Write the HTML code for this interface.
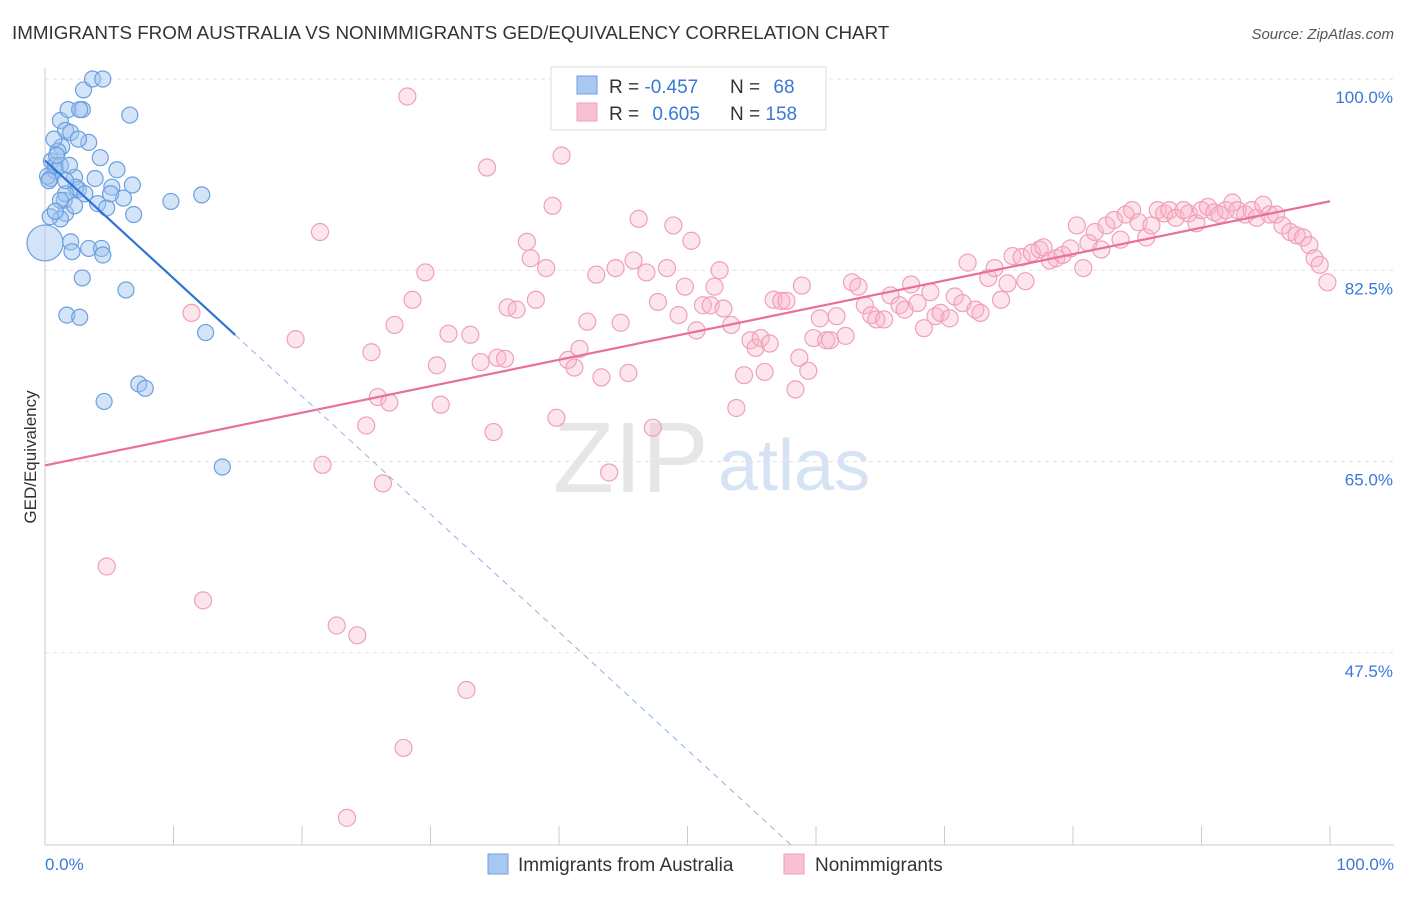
<!DOCTYPE html>
<html><head><meta charset="utf-8"><style>
body{margin:0;background:#fff;font-family:"Liberation Sans",sans-serif;}
svg text{font-family:"Liberation Sans",sans-serif;}
</style></head><body>
<svg id="chart" width="1406" height="892" xmlns="http://www.w3.org/2000/svg">
<text x="12" y="39" font-size="18.8" fill="#333">IMMIGRANTS FROM AUSTRALIA VS NONIMMIGRANTS GED/EQUIVALENCY CORRELATION CHART</text>
<text x="1394" y="39" font-size="15" fill="#555" text-anchor="end" font-style="italic">Source: ZipAtlas.com</text>
<text x="553" y="492" font-size="100" fill="#e6e6e6" font-family="Liberation Serif">ZIP</text>
<text x="718" y="490" font-size="72" fill="#d5e3f5">atlas</text>
<g id="grid"></g><g id="axes"></g><g id="pink"></g><g id="blue"></g><g id="lines"></g>
<text x="36" y="457" font-size="17" fill="#333" transform="rotate(-90 36 457)" text-anchor="middle">GED/Equivalency</text>
<g>
<rect x="551" y="67" width="275" height="63" fill="#fff" stroke="#ddd"/>
<rect x="577" y="76" width="20" height="18" fill="#a9c8f0" stroke="#6a9fe0"/>
<rect x="577" y="103" width="20" height="18" fill="#f8c0d0" stroke="#f0a0b8"/>
<text x="609" y="93" font-size="19" fill="#333">R = <tspan fill="#3a78d8">-0.457</tspan></text>
<text x="730" y="93" font-size="19" fill="#333">N = <tspan fill="#3a78d8" dx="8">68</tspan></text>
<text x="609" y="120" font-size="19" fill="#333">R = <tspan fill="#3a78d8" dx="8">0.605</tspan></text>
<text x="730" y="120" font-size="19" fill="#333">N = <tspan fill="#3a78d8">158</tspan></text>
</g>
<g>
<rect x="488" y="854" width="20" height="20" fill="#a9c8f0" stroke="#6a9fe0"/>
<text x="518" y="871" font-size="19" fill="#333">Immigrants from Australia</text>
<rect x="784" y="854" width="20" height="20" fill="#f8c0d0" stroke="#f0a0b8"/>
<text x="815" y="871" font-size="19" fill="#333">Nonimmigrants</text>
</g>
</svg>
<script>
const yTicks=[100,82.5,65,47.5];
const yTickLabels=["100.0%","82.5%","65.0%","47.5%"];
const xTickLabels=["0.0%","100.0%"];
const blueX=[0,0.4,0.5,0.8,0.2,1.2,1.3,1.6,1.8,2,2.9,3,3.7,4.5,6.6,1,0.8,1.5,2.3,2.6,2.4,1.6,2,2.1,1.2,3.4,4.3,5.6,5.2,6.8,4.1,6.1,4.8,6.9,9.8,12.2,3.4,4.4,4.5,2.9,6.3,1.7,2.7,12.5,7.3,7.8,4.6,13.8,1.2,0.7,0.3,0.9,2.7,1.6,2.3,3.1,1.9,3.9,5.1,1.2,0.4,0.8,1.6,2.6];
const blueY=[85,90.9,92.5,91.6,91.1,96.2,93.8,95.3,97.2,95.1,97.2,99,100,100,96.7,93.4,92.1,88.9,91,89.9,90.1,87.7,85.1,84.2,87.2,94.2,92.8,91.7,90.1,90.3,88.6,89.1,88.2,87.6,88.8,89.4,84.5,84.5,83.9,81.8,80.7,78.4,78.2,76.8,72.1,71.7,70.5,64.5,92.1,94.5,90.7,93,97.2,89.5,88.4,89.5,92.1,90.9,89.5,88.9,87.4,87.9,90.7,94.5];
const pinkX=[4.8,12.3,11.4,19.5,21.4,21.6,22.7,24.3,23.5,25,25.4,25.9,26.3,26.8,27.2,27.9,28.2,28.6,29.6,30.5,30.8,31.4,32.8,33.1,33.9,34.4,34.9,35.2,35.8,36,36.7,37.5,37.8,38.2,39,39.5,39.8,40.2,40.7,41.2,41.6,42.2,42.9,43.3,43.9,44.4,44.8,45.4,45.8,46.2,46.8,47.3,47.7,48.4,48.9,49.3,49.8,50.3,50.7,51.2,51.8,52.1,52.5,52.8,53.4,53.8,54.4,54.9,55.3,55.7,56,56.4,56.7,57.3,57.7,58.4,58.7,58.9,59.4,59.8,60.3,60.8,61.1,61.6,62.3,62.8,63.3,63.8,64.3,64.7,65.3,65.8,66.5,66.9,67.4,67.9,68.4,68.9,69.3,69.7,70.4,70.8,71.4,71.8,72.4,72.8,73.4,73.9,74.4,74.9,75.3,76,76.3,76.8,77.4,77.7,78.2,78.7,79.2,79.8,80.3,80.8,81.2,81.7,82.2,82.6,83.2,83.7,84.1,84.6,85.1,85.7,86.1,86.6,87.1,87.5,88,88.6,89,89.6,90,90.5,91,91.4,91.9,92.4,92.8,93.4,93.9,94.3,94.8,95.3,95.8,96.3,96.9,97.4,97.9,98.4,98.8,99.2,99.8];
const pinkY=[55.4,52.3,78.6,76.2,86,64.7,50,49.1,32.4,68.3,75,70.9,63,70.4,77.5,38.8,98.4,79.8,82.3,73.8,70.2,76.7,44.1,76.6,74.1,91.9,67.7,74.5,74.4,79.1,78.9,85.1,83.6,79.8,82.7,88.4,69,93,74.3,73.6,75.3,77.8,82.1,72.7,64,82.7,77.7,73.1,83.4,87.2,82.3,68.1,79.6,82.7,86.6,78.4,81,85.2,77,79.3,79.3,81,82.5,79,77.5,69.9,72.9,76.1,75.4,76.3,73.2,75.8,79.8,79.7,79.7,71.6,74.5,81.1,73.3,76.3,78.1,76.1,76.1,78.3,76.5,81.4,81,79.3,78.4,78,78,80.2,79.3,78.9,81.2,79.5,77.2,80.5,78.3,78.6,78.1,80.1,79.5,83.2,78.9,78.6,81.8,82.7,79.8,81.3,83.8,83.7,81.5,84.1,84.4,84.6,83.4,83.6,83.9,84.5,86.6,82.7,85,86,84.4,86.6,87.1,85.3,87.6,88,86.9,85.5,86.6,88,87.7,88,87.3,88,87.7,86.8,88,88.3,87.8,87.6,88,88.7,88,87.6,88,87.3,88.5,87.6,87.6,86.6,86,85.7,85.5,84.8,83.6,83,81.4];
const NS="http://www.w3.org/2000/svg";
const X0=45,X1=1330,Y100=79,PXPERPCT=10.93,YBOT=845;
function sx(v){return X0+(X1-X0)*v/100;}
function sy(v){return Y100+(100-v)*PXPERPCT;}
function mk(tag,attrs,parent){const e=document.createElementNS(NS,tag);for(const k in attrs)e.setAttribute(k,attrs[k]);document.getElementById(parent).appendChild(e);return e;}
yTicks.forEach((t,i)=>{
 const l=mk('line',{x1:X0,x2:1394,y1:sy(t),y2:sy(t),stroke:'#e2e2e2','stroke-dasharray':'4,4'},'grid');
 
 
 const tx=mk('text',{x:1393,y:sy(t)+24,'font-size':17,fill:'#3a78d8','text-anchor':'end'},'grid');
 tx.textContent=yTickLabels[i];
 
 
});
const ax=mk('line',{x1:X0,x2:X0,y1:68,y2:YBOT,stroke:'#ccc'},'axes');


const bx=mk('line',{x1:X0,x2:1394,y1:YBOT,y2:YBOT,stroke:'#ccc'},'axes');


for(let i=0;i<=10;i++){
 const t=mk('line',{x1:sx(i*10),x2:sx(i*10),y1:826,y2:YBOT,stroke:'#ccc'},'axes');
 
 
}
[[0,'start',45],[100,'end',1394]].forEach((d,i)=>{
 const t=mk('text',{x:d[2],y:870,'font-size':17,fill:'#3a78d8','text-anchor':d[1]},'axes');
 t.textContent=xTickLabels[i];
 
 
});
pinkX.forEach((x,i)=>{
 const c=mk('circle',{cx:sx(x),cy:sy(pinkY[i]),r:8.5,fill:'rgba(248,180,200,0.35)',stroke:'#f0a0b8','stroke-width':1.2},'pink');
 
 
});
blueX.forEach((x,i)=>{
 const c=mk('circle',{cx:sx(x),cy:sy(blueY[i]),r:i===0?18:8,fill:'rgba(160,196,240,0.45)',stroke:'#6a9fe0','stroke-width':1.2},'blue');
 
 
});
function fit(xs,ys){const n=xs.length;let mx=0,my=0;xs.forEach((x,i)=>{mx+=x;my+=ys[i];});mx/=n;my/=n;let a=0,b=0;xs.forEach((x,i)=>{a+=(x-mx)*(ys[i]-my);b+=(x-mx)*(x-mx);});const s=a/b;return [s,my-s*mx];}
const pf=fit(pinkX,pinkY);
const pl=mk('line',{x1:sx(0),y1:sy(pf[1]),x2:sx(100),y2:sy(pf[1]+pf[0]*100),stroke:'#e8709a','stroke-width':2.2},'lines');


const bf=fit(blueX,blueY);
const bmax=Math.max(...blueX)+1;
const bl=mk('line',{x1:sx(0),y1:sy(bf[1]),x2:sx(bmax),y2:sy(bf[1]+bf[0]*bmax),stroke:'#2f72d8','stroke-width':2.2},'lines');


const yEnd=100-(YBOT-Y100)/PXPERPCT;
const xEnd=(yEnd-bf[1])/bf[0];
const bd=mk('line',{x1:sx(bmax),y1:sy(bf[1]+bf[0]*bmax),x2:sx(xEnd),y2:YBOT,stroke:'#8fb2e6','stroke-width':1,'stroke-dasharray':'6,5'},'lines');


</script>
</body></html>
